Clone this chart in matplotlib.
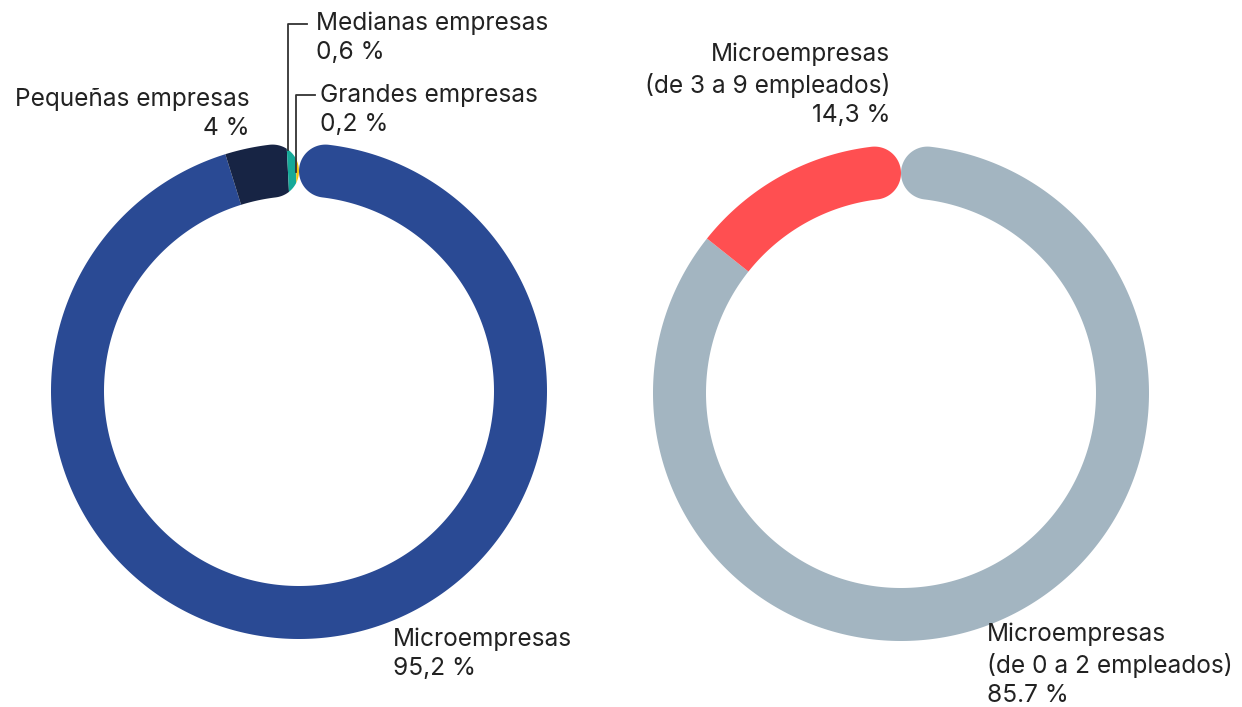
import numpy as np
import matplotlib as mpl
import matplotlib.pyplot as plt
from matplotlib.patches import Wedge, PathPatch
from matplotlib.path import Path

mpl.rcParams['font.family'] = ['Inter', 'DejaVu Sans']

# Datos
left_labels = ['Microempresas', 'Pequeñas empresas', 'Medianas empresas', 'Grandes empresas']
left_values = [95.2, 4.0, 0.6, 0.2]
left_colors = ['#2a4a94', '#172444', '#15a998', '#f4c20d']

right_labels = ['Microempresas\n(de 0 a 2 empleados)', 'Microempresas\n(de 3 a 9 empleados)']
right_values = [85.7, 14.3]
right_colors = ['#a3b5c1', '#ff4f51']

W, H = 1242, 707
R_OUT, R_IN = 248, 195
TXT = '#222222'
FS = 17.6
LS = 1.34


def ring_path(cx, cy, r_o, r_i):
    # anillo con extremos redondeados, hueco arriba
    h = (r_o - r_i) / 2
    rm = (r_o + r_i) / 2
    d = np.degrees(np.arcsin(h / rm))
    a0, a1 = np.radians(90 - d), np.radians(90 + d - 360)
    t = np.linspace(a0, a1, 400)
    outer = np.c_[r_o * np.cos(t), r_o * np.sin(t)]
    phi = np.linspace(0, np.pi, 60)
    ur1 = np.array([np.cos(a1), np.sin(a1)])
    ut1 = np.array([np.sin(a1), -np.cos(a1)])
    c1 = rm * ur1
    cap1 = c1 + h * (np.cos(phi)[:, None] * ur1 + np.sin(phi)[:, None] * ut1)
    inner = np.c_[r_i * np.cos(t[::-1]), r_i * np.sin(t[::-1])]
    ur0 = np.array([np.cos(a0), np.sin(a0)])
    ut0 = np.array([np.sin(a0), -np.cos(a0)])
    c0 = rm * ur0
    cap0 = c0 + h * (-np.cos(phi)[:, None] * ur0 - np.sin(phi)[:, None] * ut0)
    pts = np.vstack([outer, cap1, inner, cap0, outer[:1]]) + [cx, cy]
    codes = [Path.MOVETO] + [Path.LINETO] * (len(pts) - 2) + [Path.CLOSEPOLY]
    return Path(pts, codes)


def donut(ax, cx, cy, values, colors):
    clip = PathPatch(ring_path(cx, cy, R_OUT, R_IN), facecolor='none', edgecolor='none')
    ax.add_patch(clip)
    cum = np.concatenate([[0], np.cumsum(values) / np.sum(values)])
    for i, c in enumerate(colors):
        w = Wedge((cx, cy), R_OUT + 2, 90 - cum[i + 1] * 360, 90 - cum[i] * 360,
                  width=R_OUT - R_IN + 4, facecolor=c, edgecolor='none')
        ax.add_patch(w)
        w.set_clip_path(clip)


fig = plt.figure(figsize=(W / 100, H / 100), dpi=100)
ax = fig.add_axes([0, 0, 1, 1])
ax.set_xlim(0, W)
ax.set_ylim(0, H)
ax.axis('off')

donut(ax, 299, H - 391, left_values, left_colors)
donut(ax, 901, H - 393, right_values, right_colors)

def fmt(v):
    return f'{v:g}'.replace('.', ',') + ' %'

# etiquetas izquierda
ax.text(393, H - 654, f'{left_labels[0]}\n{fmt(left_values[0])}', fontsize=FS, color=TXT,
        ha='left', va='center', linespacing=LS)
ax.text(250, H - 114, f'{left_labels[1]}\n{fmt(left_values[1])}', fontsize=FS, color=TXT,
        ha='right', va='center', linespacing=LS)
ax.text(316, H - 38, f'{left_labels[2]}\n{fmt(left_values[2])}', fontsize=FS, color=TXT,
        ha='left', va='center', linespacing=LS)
ax.text(320, H - 110, f'{left_labels[3]}\n{fmt(left_values[3])}', fontsize=FS, color=TXT,
        ha='left', va='center', linespacing=LS)
ax.plot([288, 288, 307], [H - 150, H - 24, H - 24], color='#333333', lw=1.3)
ax.plot([296, 296, 315], [H - 172, H - 95, H - 95], color='#333333', lw=1.3)

# etiquetas derecha
ax.text(987, H - 650, right_labels[0], fontsize=FS, color=TXT,
        ha='left', va='center', linespacing=LS)
ax.text(987, H - 695, f'{right_values[0]:g} %', fontsize=FS, color=TXT,
        ha='left', va='center')
ax.text(890, H - 85, f'{right_labels[1]}\n{fmt(right_values[1])}', fontsize=FS, color=TXT,
        ha='right', va='center', linespacing=LS, multialignment='right')

fig.savefig('out.png', dpi=100)
